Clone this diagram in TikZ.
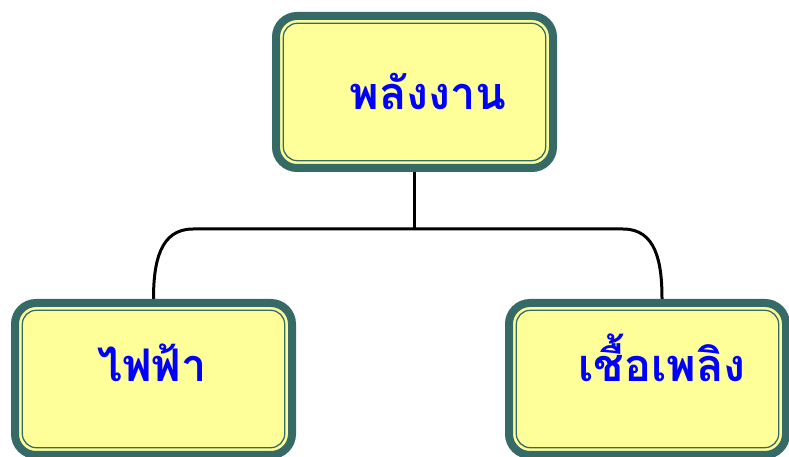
\documentclass[tikz,border=0pt]{standalone}
\usepackage{fontspec}
\newfontfamily\thaifont[Script=Thai]{Loma}
\usetikzlibrary{calc,backgrounds}
\definecolor{bandteal}{HTML}{356A66}
\definecolor{boxyellow}{HTML}{FFFF99}
\definecolor{txtblue}{HTML}{0000FF}
\tikzset{
  box/.style={draw=bandteal, line width=8pt, fill=boxyellow, rounded corners=21pt,
    minimum width=277pt, minimum height=152pt, inner sep=0pt, outer sep=4pt},
  innerline/.style={draw=bandteal, line width=1.3pt, rounded corners=14pt},
  lbl/.style={font=\thaifont\bfseries\fontsize{45}{48}\selectfont, text=txtblue, anchor=base, inner sep=0pt},
  conn/.style={draw=black, line width=3pt}
}
\newcommand{\innerframe}[1]{%
  \draw[innerline] ($(#1.north west)+(11.3,-11.3)$) rectangle ($(#1.south east)+(-11.3,11.3)$);}
\begin{document}
\begin{tikzpicture}[x=1pt,y=1pt]
\useasboundingbox (0,0) rectangle (789,457);
\node[box] (top) at (414.5,365) {};
\innerframe{top}
\node[box] (left) at (153.5,78) {};
\innerframe{left}
\node[box] (right) at (647.5,78) {};
\innerframe{right}
\node[lbl] (ttop) at (428,347) {พลังงาน};
\node[lbl] (tleft) at (152,75) {ไฟฟ้า};
\node[lbl] (tright) at (662,75) {เชื้อเพลิง};
\coordinate (rj) at ($(right.north)+(14.5,0)$);
\begin{scope}[on background layer]
\draw[conn] (top.south) -- (414.5,228);
\draw[conn] (left.north) .. controls (153.5,195) and (160,228) .. (193,228) -- (623,228)
  .. controls (656,228) and (662,195) .. (rj);
\end{scope}
\end{tikzpicture}
\end{document}
